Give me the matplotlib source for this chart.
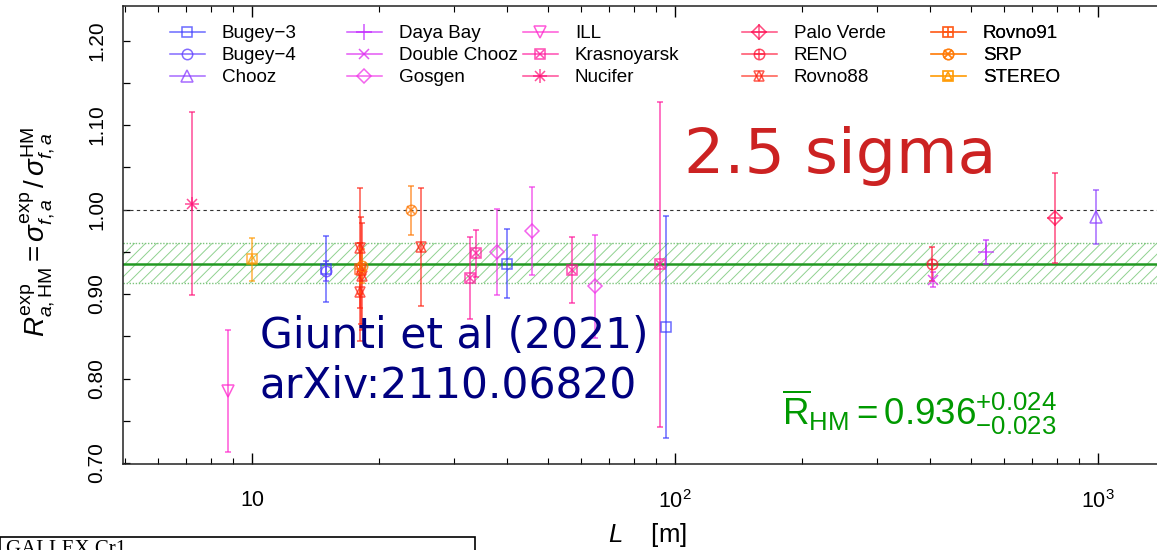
import numpy as np
import matplotlib
matplotlib.use("Agg")
import matplotlib.pyplot as plt
from matplotlib.lines import Line2D
from matplotlib.legend_handler import HandlerTuple
from matplotlib.patches import Rectangle

plt.rcParams['font.family'] = ['Liberation Sans', 'DejaVu Sans']
plt.rcParams['mathtext.fontset'] = 'custom'
plt.rcParams['mathtext.rm'] = 'Liberation Sans'
plt.rcParams['mathtext.it'] = 'Liberation Sans:italic'
plt.rcParams['mathtext.bf'] = 'Liberation Sans:bold'
plt.rcParams['hatch.linewidth'] = 0.7

# ---------------- data ----------------
experiments = ["Bugey\u22123", "Bugey\u22124", "Chooz", "Daya Bay", "Double Chooz", "Gosgen",
               "ILL", "Krasnoyarsk", "Nucifer", "Palo Verde", "RENO", "Rovno88",
               "Rovno91", "SRP", "STEREO"]

bugey3_L = [15.0, 40.0, 95.0]
bugey3_R = [0.930, 0.936, 0.861]
bugey3_E = [0.039, 0.041, 0.131]

bugey4_L = [15.0]
bugey4_R = [0.927]
bugey4_E = [0.012]

chooz_L = [990.0]
chooz_R = [0.991]
chooz_E = [0.032]

dayabay_L = [545.0]
dayabay_R = [0.950]
dayabay_E = [0.014]

dchooz_L = [407.0]
dchooz_R = [0.917]
dchooz_E = [0.009]

gosgen_L = [37.9, 45.9, 64.7]
gosgen_R = [0.950, 0.975, 0.909]
gosgen_E = [0.051, 0.052, 0.061]

ill_L = [8.76]
ill_R = [0.785]
ill_E = [0.072]

krasno_L = [32.8, 33.9, 57.0, 92.3]
krasno_R = [0.919, 0.948, 0.928, 0.935]
krasno_E = [0.048, 0.028, 0.039, 0.192]

nucifer_L = [7.2]
nucifer_R = [1.007]
nucifer_E = [0.108]

paloverde_L = [790.0]
paloverde_R = [0.990]
paloverde_E = [0.053]

reno_L = [405.0]
reno_R = [0.936]
reno_E = [0.020]

rovno88_L = [17.96, 18.0, 18.15, 18.18, 25.15]
rovno88_R = [0.955, 0.903, 0.928, 0.921, 0.956]
rovno88_E = [0.071, 0.058, 0.063, 0.063, 0.070]

rovno91_L = [18.0]
rovno91_R = [0.930]
rovno91_E = [0.030]

srp_L = [18.2, 23.8]
srp_R = [0.933, 0.999]
srp_E = [0.020, 0.029]

stereo_L = [10.0]
stereo_R = [0.941]
stereo_E = [0.025]

R_mean = 0.936
R_up = 0.024
R_down = 0.023

x_ticks = [10, 100, 1000]
x_ticklabels = ["10", r"$10^2$", r"$10^3$"]
y_ticks = [0.70, 0.80, 0.90, 1.00, 1.10, 1.20]

series_list = [
    (bugey3_L, bugey3_R, bugey3_E),
    (bugey4_L, bugey4_R, bugey4_E),
    (chooz_L, chooz_R, chooz_E),
    (dayabay_L, dayabay_R, dayabay_E),
    (dchooz_L, dchooz_R, dchooz_E),
    (gosgen_L, gosgen_R, gosgen_E),
    (ill_L, ill_R, ill_E),
    (krasno_L, krasno_R, krasno_E),
    (nucifer_L, nucifer_R, nucifer_E),
    (paloverde_L, paloverde_R, paloverde_E),
    (reno_L, reno_R, reno_E),
    (rovno88_L, rovno88_R, rovno88_E),
    (rovno91_L, rovno91_R, rovno91_E),
    (srp_L, srp_R, srp_E),
    (stereo_L, stereo_R, stereo_E),
]

# ---------------- styles ----------------
colors = ["#3a3aff", "#5a3aff", "#8a3aff", "#c020ff", "#dc22f0", "#f030e8",
          "#ff22cc", "#ff1199", "#ff1177", "#ff1155", "#ff1133", "#ff2211",
          "#ff5511", "#ff7700", "#ff9900"]
markers = [
    [("s", 7.5)], [("o", 7.5)], [("^", 8.5)],
    [("+", 11)], [("x", 7.5)], [("D", 7.5)],
    [("v", 8.5)], [("s", 7.5), ("x", 5.5)], [("+", 10), ("x", 7.5)],
    [("D", 7.5), ("+", 11)], [("o", 7.5), ("+", 7.5)], [("^", 7.5), ("v", 7.5)],
    [("s", 7.5), ("+", 7.5)], [("o", 7.5), ("x", 5.5)], [("s", 7.5), ("^", 5.5)],
]
ALPHA = 0.75

fig = plt.figure(figsize=(11.57, 5.5), dpi=100)
ax = fig.add_axes([123 / 1157, 1 - 464 / 550, 1 - 123 / 1157, (464 - 6) / 550])
ax.set_xscale("log")
ax.set_xlim(4.955, 1379)
ax.set_ylim(0.6988, 1.241)

# band
ax.fill_between([1, 5000], R_mean - R_down, R_mean + R_up, facecolor="none",
                hatch="///", edgecolor="#8fd18f", linewidth=0, zorder=1)
for yv in (R_mean - R_down, R_mean + R_up):
    ax.axhline(yv, color="#7cc47c", lw=1.0, ls=(0, (1, 1.2)), zorder=1)
ax.axhline(R_mean, color="#229922", lw=1.8, zorder=2)
ax.axhline(1.0, color="#333333", lw=0.8, ls=(0, (3, 3)), zorder=2)

handles = []
for (L, R, E), c, mk in zip(series_list, colors, markers):
    ax.errorbar(L, R, yerr=E, fmt="none", ecolor=c, elinewidth=1.1, capsize=2,
                capthick=1.1, alpha=ALPHA, zorder=3)
    hs = []
    for i, (m, s) in enumerate(mk):
        ax.plot(L, R, ls="none", marker=m, ms=s, mfc="none", mec=c, mew=1.1,
                alpha=ALPHA, zorder=4)
        hs.append(Line2D([], [], color=c, lw=1.1 if i == 0 else 0, marker=m, ms=s,
                         mfc="none", mec=c, mew=1.1, alpha=ALPHA))
    handles.append(tuple(hs))

# ticks
ax.set_xticks(x_ticks)
ax.set_xticklabels(x_ticklabels)
yt = np.arange(0.70, 1.2401, 0.05)
ax.set_yticks(yt)
ax.set_yticklabels([("%.2f" % v) if any(abs(v - t) < 1e-6 for t in y_ticks) else ""
                    for v in yt], rotation=90, va="center")
ax.tick_params(axis="x", which="major", direction="in", length=8, width=1,
               top=True, labelsize=15.5, pad=19)
ax.tick_params(axis="x", which="minor", direction="in", length=4, width=0.8, top=True)
ax.tick_params(axis="y", which="major", direction="in", length=5, width=0.9,
               labelsize=15, pad=12)
ax.tick_params(axis="y", which="minor", left=False, right=False)
ax.spines["right"].set_visible(False)
for sp in ("left", "top", "bottom"):
    ax.spines[sp].set_linewidth(1.1)
    ax.spines[sp].set_color("#222222")

# labels
fig.text(38 / 1157, 1 - 232 / 550,
         r"$R_{a,\mathrm{HM}}^{\mathrm{exp}} = \sigma_{f,a}^{\mathrm{exp}}\,/\,\sigma_{f,a}^{\mathrm{HM}}$",
         rotation=90, ha="center", va="center", fontsize=20)
fig.text(647 / 1157, 1 - 535 / 550, r"$L$    [m]", ha="center", va="center", fontsize=18.5)

# legend in 5 columns
col_x = [170, 347, 523, 742, 931]
for ci in range(5):
    hh = handles[3 * ci:3 * ci + 3]
    ll = experiments[3 * ci:3 * ci + 3]
    leg = ax.legend(hh, ll, handler_map={tuple: HandlerTuple(ndivide=1, pad=0)},
                    loc="upper left",
                    bbox_to_anchor=(col_x[ci] / 1157, 1 - 25 / 550),
                    bbox_transform=fig.transFigure, frameon=False, fontsize=13.6,
                    handlelength=1.85, handletextpad=0.9, labelspacing=0.26,
                    borderpad=0, borderaxespad=0)
    ax.add_artist(leg)

# annotations
fig.text(684 / 1157, 1 - 173 / 550, "2.5 sigma", color="#cc2222", fontsize=45.6,
         family="DejaVu Sans", ha="left", va="baseline")
fig.text(260 / 1157, 1 - 348 / 550, "Giunti et al (2021)", color="#000080",
         fontsize=30.5, family="DejaVu Sans", ha="left", va="baseline")
fig.text(260 / 1157, 1 - 397 / 550, "arXiv:2110.06820", color="#000080",
         fontsize=30.5, family="DejaVu Sans", ha="left", va="baseline")
fig.text(782 / 1157, 1 - 425 / 550,
         r"$\overline{\mathrm{R}}_{\mathrm{HM}} = 0.936^{+0.024}_{-0.023}$",
         color="#009900", fontsize=26.5, ha="left", va="baseline")

# cropped box at bottom-left
fig.patches.append(Rectangle((0 / 1157, -0.05), 475 / 1157, 0.05 + (550 - 537) / 550,
                             transform=fig.transFigure, fill=False, lw=1.2,
                             edgecolor="black"))
fig.text(6 / 1157, 1 - 540 / 550, "GALLEX Cr1", family="Liberation Serif",
         fontsize=15, ha="left", va="top")

fig.savefig("out.png", dpi=100)
